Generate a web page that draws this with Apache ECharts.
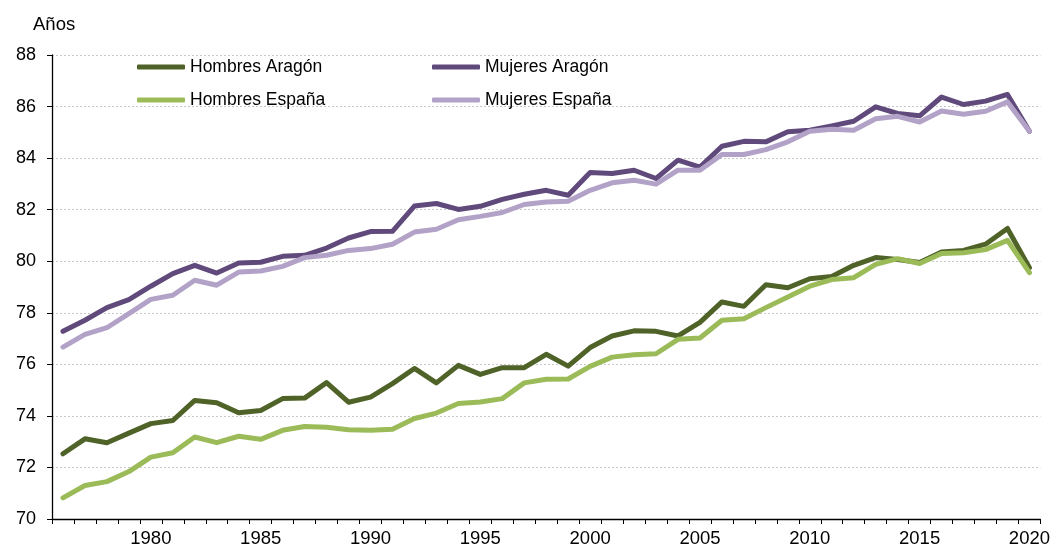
<!DOCTYPE html>
<html>
<head>
<meta charset="utf-8">
<script src="https://cdn.jsdelivr.net/npm/echarts@6/dist/echarts.min.js"></script>
<style>
  html, body { margin: 0; padding: 0; background: #fff; }
  #chart { width: 1053px; height: 551px; }
</style>
</head>
<body>
<div id="chart"></div>
<script>
// años 1976-2020
const years = [];
for (let y = 1976; y <= 2020; y++) years.push(String(y));

const hombresAragon = [
  72.53, 73.11, 72.96, 73.33, 73.70, 73.82, 74.60, 74.51, 74.12, 74.21,
  74.67, 74.69, 75.29, 74.53, 74.73, 75.25, 75.84, 75.28, 75.96, 75.61,
  75.87, 75.87, 76.39, 75.93, 76.65, 77.10, 77.30, 77.28, 77.10, 77.63,
  78.42, 78.25, 79.09, 78.97, 79.32, 79.41, 79.84, 80.14, 80.07, 79.95,
  80.36, 80.42, 80.66, 81.27, 79.75
];
const mujeresAragon = [
  77.28, 77.71, 78.20, 78.51, 79.03, 79.52, 79.84, 79.54, 79.93, 79.96,
  80.19, 80.23, 80.51, 80.90, 81.15, 81.16, 82.14, 82.24, 82.01, 82.13,
  82.40, 82.60, 82.75, 82.56, 83.44, 83.40, 83.53, 83.21, 83.92, 83.65,
  84.46, 84.65, 84.63, 85.02, 85.08, 85.25, 85.43, 85.99, 85.73, 85.64,
  86.37, 86.08, 86.21, 86.47, 85.04
];
const hombresEspana = [
  70.82, 71.30, 71.45, 71.84, 72.40, 72.57, 73.18, 72.96, 73.21, 73.09,
  73.44, 73.59, 73.56, 73.46, 73.44, 73.48, 73.90, 74.11, 74.48, 74.54,
  74.67, 75.28, 75.42, 75.43, 75.92, 76.28, 76.37, 76.41, 76.97, 77.02,
  77.71, 77.77, 78.20, 78.61, 79.03, 79.29, 79.36, 79.88, 80.10, 79.91,
  80.30, 80.33, 80.45, 80.81, 79.56
];
const mujeresEspana = [
  76.67, 77.16, 77.42, 77.97, 78.52, 78.68, 79.26, 79.07, 79.58, 79.62,
  79.80, 80.14, 80.23, 80.42, 80.49, 80.66, 81.13, 81.24, 81.61, 81.74,
  81.89, 82.20, 82.30, 82.33, 82.75, 83.04, 83.14, 82.99, 83.53, 83.53,
  84.14, 84.14, 84.33, 84.63, 85.04, 85.12, 85.08, 85.53, 85.62, 85.40,
  85.83, 85.70, 85.82, 86.18, 85.04
];

const colors = {
  'Hombres Aragón': '#4f6228',
  'Mujeres Aragón': '#604a7b',
  'Hombres España': '#9bbb59',
  'Mujeres España': '#b3a2c7'
};

const FONT = 'Liberation Sans, Arial, sans-serif';

function mkLegend(name, left, top) {
  return {
    data: [name],
    left: left,
    top: top,
    icon: 'roundRect',
    itemWidth: 48,
    itemHeight: 5,
    itemGap: 0,
    padding: 0,
    textStyle: { fontFamily: FONT, fontSize: 17.5, color: '#000' }
  };
}

function mkSeries(name, data) {
  return {
    name: name,
    type: 'line',
    data: data,
    symbol: 'none',
    lineStyle: { width: 5, color: colors[name], cap: 'round', join: 'round' },
    itemStyle: { color: colors[name] },
    animation: false
  };
}

const chart = echarts.init(document.getElementById('chart'));
chart.setOption({
  animation: false,
  title: {
    text: 'Años',
    left: 28,
    top: 10,
    textStyle: { fontFamily: FONT, fontSize: 18.5, fontWeight: 'normal', color: '#000' }
  },
  legend: [
    mkLegend('Hombres Aragón', 137, 58),
    mkLegend('Mujeres Aragón', 432, 58),
    mkLegend('Hombres España', 137, 91),
    mkLegend('Mujeres España', 432, 91)
  ],
  grid: { left: 52, right: 11, top: 55, bottom: 32, containLabel: false },
  xAxis: {
    type: 'category',
    data: years,
    boundaryGap: true,
    axisLine: { lineStyle: { color: '#000', width: 1.3 } },
    axisTick: { show: true, interval: 0, length: 5, lineStyle: { color: '#000' } },
    axisLabel: {
      interval: function (i, v) { return Number(v) % 5 === 0; },
      fontFamily: FONT, fontSize: 18.5, color: '#000', margin: 10
    },
    splitLine: { show: false }
  },
  yAxis: {
    type: 'value',
    min: 70,
    max: 88,
    interval: 2,
    axisLine: { show: true, lineStyle: { color: '#000', width: 1.3 } },
    axisTick: { show: true, length: 5, lineStyle: { color: '#000' } },
    axisLabel: { fontFamily: FONT, fontSize: 18, color: '#000', margin: 16 },
    splitLine: { show: true, lineStyle: { color: '#c8c8c8', type: [2, 2], width: 1 } }
  },
  series: [
    mkSeries('Hombres Aragón', hombresAragon),
    mkSeries('Mujeres Aragón', mujeresAragon),
    mkSeries('Hombres España', hombresEspana),
    mkSeries('Mujeres España', mujeresEspana)
  ]
});
</script>
</body>
</html>
